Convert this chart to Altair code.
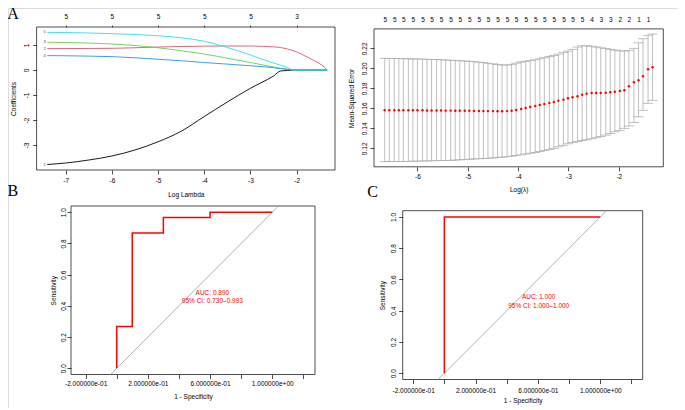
import json
import altair as alt
import pandas as pd

# ---------------- data ----------------
# Panel A: LASSO coefficient paths (x = log lambda)
coef_loglambda = [-7.4, -7.0, -6.5, -6.0, -5.5, -5.0, -4.5, -4.0, -3.5, -3.0,
                  -2.75, -2.5, -2.35, -2.2, -2.05, -1.9, -1.75, -1.6, -1.45, -1.34]
coef_var1 = [-3.78, -3.72, -3.60, -3.44, -3.20, -2.87, -2.45, -1.86, -1.28, -0.73,
             -0.49, -0.24, -0.04, -0.02, 0.0, 0.0, 0.0, 0.0, 0.0, 0.0]
coef_var2 = [0.855, 0.857, 0.862, 0.868, 0.89, 0.92, 0.94, 0.955, 0.96, 0.96,
             0.95, 0.925, 0.90, 0.84, 0.76, 0.64, 0.50, 0.35, 0.19, 0.0]
coef_var3 = [1.11, 1.10, 1.08, 1.04, 0.98, 0.89, 0.77, 0.64, 0.47, 0.30,
             0.21, 0.12, 0.07, 0.03, 0.0, 0.0, 0.0, 0.0, 0.0, 0.0]
coef_var4 = [0.575, 0.57, 0.555, 0.535, 0.49, 0.43, 0.37, 0.30, 0.235, 0.17,
             0.135, 0.09, 0.055, 0.025, 0.0, 0.0, 0.0, 0.0, 0.0, 0.0]
coef_var5 = [1.505, 1.50, 1.48, 1.455, 1.42, 1.37, 1.29, 1.15, 0.90, 0.60,
             0.43, 0.28, 0.19, 0.10, 0.0, 0.0, 0.0, 0.0, 0.0, 0.0]
coef_names = ["1", "2", "3", "4", "5"]
coef_colors = ["#000000", "#DF536B", "#61D04F", "#2297E6", "#28E2E5"]
coef_xticks = [-7, -6, -5, -4, -3, -2]
coef_yticks = [-3, -2, -1, 0, 1]
coef_top_at = [-7, -6, -5, -4, -3, -2]
coef_top_df = ["5", "5", "5", "5", "5", "3"]

# Panel top-right: cross-validation curve
cv_loglambda = [-6.65, -6.56, -6.46, -6.37, -6.28, -6.18, -6.09, -6.00, -5.90, -5.81,
                -5.72, -5.62, -5.53, -5.44, -5.34, -5.25, -5.16, -5.06, -4.97, -4.88,
                -4.78, -4.69, -4.60, -4.50, -4.41, -4.32, -4.22, -4.13, -4.04, -3.94,
                -3.85, -3.76, -3.66, -3.57, -3.48, -3.38, -3.29, -3.20, -3.10, -3.01,
                -2.92, -2.82, -2.73, -2.64, -2.54, -2.45, -2.36, -2.26, -2.17, -2.08,
                -1.98, -1.89, -1.80, -1.70, -1.61, -1.52, -1.42, -1.33]
cv_mse = [0.1581, 0.1581, 0.1581, 0.1581, 0.1581, 0.1580, 0.1580, 0.1580, 0.1580, 0.1579,
          0.1579, 0.1578, 0.1578, 0.1577, 0.1577, 0.1576, 0.1576, 0.1575, 0.1575, 0.1574,
          0.1573, 0.1573, 0.1572, 0.1572, 0.1571, 0.1571, 0.1572, 0.1575, 0.1583,
          0.1593, 0.1603, 0.1613, 0.1623, 0.1633, 0.1643, 0.1653, 0.1663, 0.1676, 0.1686,
          0.1700, 0.1710, 0.1720, 0.1736, 0.1746, 0.1753, 0.1753, 0.1753, 0.1756, 0.1760,
          0.1766, 0.1773, 0.1780, 0.1820, 0.1860, 0.1880, 0.1920, 0.1990, 0.2010]
cv_upper = [0.2100, 0.2099, 0.2098, 0.2097, 0.2096, 0.2095, 0.2094, 0.2093, 0.2092, 0.2090,
            0.2089, 0.2087, 0.2085, 0.2083, 0.2080, 0.2078, 0.2076, 0.2073, 0.2070, 0.2066,
            0.2061, 0.2056, 0.2051, 0.2045, 0.2039, 0.2033, 0.2032, 0.2040, 0.2052, 0.2063,
            0.2070, 0.2077, 0.2085, 0.2095, 0.2106, 0.2117, 0.2128, 0.2142, 0.2157, 0.2172,
            0.2190, 0.2212, 0.2224, 0.2226, 0.2220, 0.2213, 0.2205, 0.2197, 0.2190, 0.2182,
            0.2175, 0.2172, 0.2180, 0.2200, 0.2255, 0.2295, 0.2330, 0.2343]
cv_lower = [0.1066, 0.1067, 0.1067, 0.1068, 0.1069, 0.1070, 0.1071, 0.1072, 0.1073, 0.1074,
            0.1075, 0.1076, 0.1077, 0.1079, 0.1080, 0.1082, 0.1085, 0.1088, 0.1090, 0.1093,
            0.1095, 0.1097, 0.1100, 0.1104, 0.1108, 0.1112, 0.1116, 0.1121, 0.1126, 0.1135,
            0.1143, 0.1151, 0.1158, 0.1168, 0.1178, 0.1189, 0.1200, 0.1215, 0.1230, 0.1245,
            0.1258, 0.1268, 0.1277, 0.1285, 0.1295, 0.1306, 0.1318, 0.1332, 0.1347, 0.1365,
            0.1380, 0.1400, 0.1423, 0.1458, 0.1515, 0.1580, 0.1650, 0.1680]
cv_top_labels = ["5", "5", "5", "5", "5", "5", "5", "5", "5", "5", "5",
                 "5", "5", "5", "5", "5", "5", "5", "5", "5", "5", "5",
                 "4", "3", "3", "2", "2", "1", "1"]
cv_xticks = [-6, -5, -4, -3, -2]
cv_yticks = [0.12, 0.14, 0.16, 0.18, 0.20, 0.22]

# Panels B and C: ROC curves
rocB_fpr = [0.0, 0.0, 0.1, 0.1, 0.3, 0.3, 0.6, 0.6, 1.0]
rocB_tpr = [0.0, 0.267, 0.267, 0.867, 0.867, 0.967, 0.967, 1.0, 1.0]
rocB_text = ["AUC: 0.890", "95% CI: 0.730\u20130.993"]
rocC_fpr = [0.0, 0.0, 1.0]
rocC_tpr = [0.0, 1.0, 1.0]
rocC_text = ["AUC: 1.000", "95% CI: 1.000\u20131.000"]
roc_diag = [-0.04, 1.04]
roc_xticks = [-0.2, 0.0, 0.2, 0.4, 0.6, 0.8, 1.0, 1.2]
roc_xlabels = ["-2.000000e-01", "", "2.000000e-01", "", "6.000000e-01", "", "1.000000e+00", ""]
roc_yticks = [0.0, 0.2, 0.4, 0.6, 0.8, 1.0]
panel_letters = ["A", "B", "C"]

# ---------------- layout (page pixels) ----------------
OFF = 8
W, H = 669, 400
FONT = "Liberation Sans"
FS = 6.5


def P(v):
    return v - OFF


def scale(dom, rng):
    return alt.Scale(domain=list(dom), range=[P(r) for r in rng], nice=False, zero=False)


# panel geometry: domain and pixel range (page coords)
A_XD, A_XR = [-7.63, -1.17], [36.6, 335.0]
A_YD, A_YR = [-4.0, 1.72], [170.0, 27.0]
D_XD, D_XR = [-6.863, -1.117], [374.0, 663.3]
D_YD, D_YR = [0.1015, 0.2394], [166.8, 28.9]
B_XD, B_XR = [-0.294, 1.275], [71.0, 315.0]
B_YD, B_YR = [-0.04, 1.04], [374.5, 206.0]
C_XD, C_XR = [-0.267, 1.272], [402.7, 642.7]
C_YD, C_YR = [-0.04, 1.04], [379.5, 210.7]

common_axis = dict(domain=False, grid=False, labelOverlap=False, labelFlush=False,
                   labelFont=FONT, labelFontSize=FS, labelColor="black",
                   titleFont=FONT, titleFontSize=FS, titleFontWeight="normal",
                   titleColor="black", tickColor="black", tickWidth=0.7)


def lookup_expr(labels, values):
    return json.dumps(labels) + "[indexof(" + json.dumps(values) + ", datum.value)]"


def ax_bottom(box_bottom, values, title, title_dist, expr, pad):
    return alt.Axis(orient="bottom", offset=P(box_bottom) - H, values=values,
                    labelExpr=expr, title=title, tickSize=4, labelPadding=pad,
                    titleY=title_dist, titleBaseline="middle", **common_axis)


def ax_left(box_left, values, title, title_x, expr, pad):
    return alt.Axis(orient="left", offset=-P(box_left), values=values,
                    labelExpr=expr, title=title, tickSize=4, labelPadding=pad,
                    labelAngle=270, labelAlign="center", labelBaseline="bottom",
                    titleAngle=270, titleX=title_x, titleBaseline="middle", **common_axis)


def ax_top(box_top, values, labels, tick, pad):
    return alt.Axis(orient="top", offset=-P(box_top), values=values,
                    labelExpr=lookup_expr(labels, values),
                    title=None, ticks=tick > 0, tickSize=max(tick, 0.1), labelPadding=pad,
                    **common_axis)


def box_layer(xd, xr, yd, yr, xaxis, yaxis):
    df = pd.DataFrame({"x0": [xd[0]], "x1": [xd[1]], "y0": [yd[0]], "y1": [yd[1]]})
    return alt.Chart(df).mark_rect(fillOpacity=0, stroke="#222222", strokeWidth=0.8).encode(
        x=alt.X("x0:Q", scale=scale(xd, xr), axis=xaxis),
        x2="x1:Q",
        y=alt.Y("y0:Q", scale=scale(yd, yr), axis=yaxis),
        y2="y1:Q",
    )


layers = []

# ---------- Panel A ----------
layers.append(box_layer(
    A_XD, A_XR, A_YD, A_YR,
    ax_bottom(170.0, coef_xticks, "Log Lambda", 24, "toString(datum.value)", 3),
    ax_left(36.6, coef_yticks, "Coefficients", -23.5, "toString(datum.value)", 2.6),
))
coef_series = [coef_var1, coef_var2, coef_var3, coef_var4, coef_var5]
for i, (name, vals, col) in enumerate(zip(coef_names, coef_series, coef_colors)):
    df = pd.DataFrame({"lam": coef_loglambda, "coef": vals})
    xaxis = ax_top(27.0, coef_top_at, coef_top_df, 2, 5.3) if i == 0 else None
    layers.append(alt.Chart(df).mark_line(color=col, strokeWidth=0.9, interpolate="monotone").encode(
        x=alt.X("lam:Q", scale=scale(A_XD, A_XR), axis=xaxis),
        y=alt.Y("coef:Q", scale=scale(A_YD, A_YR), axis=None),
    ))
lab_df = pd.DataFrame({"lam": [coef_loglambda[0]] * 5,
                       "coef": [s[0] for s in coef_series],
                       "label": coef_names})
layers.append(alt.Chart(lab_df).mark_text(align="right", baseline="middle", dx=-1.5,
                                          fontSize=4, font=FONT, color="#444444").encode(
    x=alt.X("lam:Q", scale=scale(A_XD, A_XR), axis=None),
    y=alt.Y("coef:Q", scale=scale(A_YD, A_YR), axis=None),
    text="label:N",
))

# ---------- Panel top-right (CV) ----------
layers.append(box_layer(
    D_XD, D_XR, D_YD, D_YR,
    ax_bottom(166.8, cv_xticks, "Log(\u03bb)", 22.2, "toString(datum.value)", 3),
    ax_left(374.0, cv_yticks, "Mean-Squared Error", -22.3, "format(datum.value, '.2f')", 3),
))
cv_df = pd.DataFrame({"lam": cv_loglambda, "mse": cv_mse, "up": cv_upper, "lo": cv_lower})
layers.append(alt.Chart(cv_df).mark_rule(color="#B0B0B0", strokeWidth=0.8).encode(
    x=alt.X("lam:Q", scale=scale(D_XD, D_XR), axis=None),
    y=alt.Y("lo:Q", scale=scale(D_YD, D_YR), axis=None),
    y2="up:Q",
))
for fld in ["up", "lo"]:
    layers.append(alt.Chart(cv_df).mark_tick(orient="horizontal", size=10, thickness=0.8,
                                             color="#B0B0B0", opacity=1).encode(
        x=alt.X("lam:Q", scale=scale(D_XD, D_XR), axis=None),
        y=alt.Y(f"{fld}:Q", scale=scale(D_YD, D_YR), axis=None),
    ))
layers.append(alt.Chart(cv_df).mark_circle(size=6, color="#FF0000", opacity=1).encode(
    x=alt.X("lam:Q", scale=scale(D_XD, D_XR),
            axis=ax_top(28.9, cv_loglambda[0::2], cv_top_labels, 0, 6.2)),
    y=alt.Y("mse:Q", scale=scale(D_YD, D_YR), axis=None),
))


# ---------- ROC panels ----------
def roc_panel(xd, xr, yd, yr, box_bottom, box_left, fpr, tpr, texts, text_x, text_y,
              xpad, ypad, xtitle_dist, ytitle_x):
    out = [box_layer(
        xd, xr, yd, yr,
        ax_bottom(box_bottom, roc_xticks, "1 - Specificity", xtitle_dist,
                  lookup_expr(roc_xlabels, roc_xticks), xpad),
        ax_left(box_left, roc_yticks, "Sensitivity", ytitle_x, "format(datum.value, '.1f')", ypad),
    )]
    ddf = pd.DataFrame({"x": roc_diag, "y": roc_diag})
    out.append(alt.Chart(ddf).mark_line(color="#AAAAAA", strokeWidth=0.9).encode(
        x=alt.X("x:Q", scale=scale(xd, xr), axis=None),
        y=alt.Y("y:Q", scale=scale(yd, yr), axis=None),
    ))
    rdf = pd.DataFrame({"fpr": fpr, "tpr": tpr, "i": list(range(len(fpr)))})
    out.append(alt.Chart(rdf).mark_line(color="#FF0000", strokeWidth=1.5).encode(
        x=alt.X("fpr:Q", scale=scale(xd, xr), axis=None),
        y=alt.Y("tpr:Q", scale=scale(yd, yr), axis=None),
        order="i:Q",
    ))
    tdf = pd.DataFrame({"x": [text_x, text_x], "y": text_y, "t": texts})
    out.append(alt.Chart(tdf).mark_text(align="center", baseline="middle", fontSize=FS,
                                        font=FONT, color="#FF0000").encode(
        x=alt.X("x:Q", scale=scale(xd, xr), axis=None),
        y=alt.Y("y:Q", scale=scale(yd, yr), axis=None),
        text="t:N",
    ))
    return out


layers += roc_panel(B_XD, B_XR, B_YD, B_YR, 374.5, 71.0, rocB_fpr, rocB_tpr, rocB_text,
                    0.615, [0.485, 0.43], 2, 0.5, 22.2, -17.7)
layers += roc_panel(C_XD, C_XR, C_YD, C_YR, 379.5, 402.7, rocC_fpr, rocC_tpr, rocC_text,
                    0.605, [0.488, 0.432], 3.5, 2.7, 20.5, -20.0)

# ---------- panel letters (cap-bottom positions) ----------
letter_pos = [(13.0, 19.0), (12.8, 195.7), (372.5, 197.0)]
for letter, (lx, ly) in zip(panel_letters, letter_pos):
    layers.append(alt.Chart(pd.DataFrame({"t": [letter]})).mark_text(
        font="Liberation Serif", fontSize=16, align="center", baseline="alphabetic", color="black"
    ).encode(x=alt.value(P(lx)), y=alt.value(P(ly)), text="t:N"))

chart = alt.layer(*layers).resolve_scale(
    x="independent", y="independent"
).properties(
    width=W, height=H, autosize=alt.AutoSizeParams(type="none"), padding=0
).configure_view(strokeWidth=0).configure(background="white")

chart.save("out.html", embed_options={"renderer": "svg", "actions": False})
